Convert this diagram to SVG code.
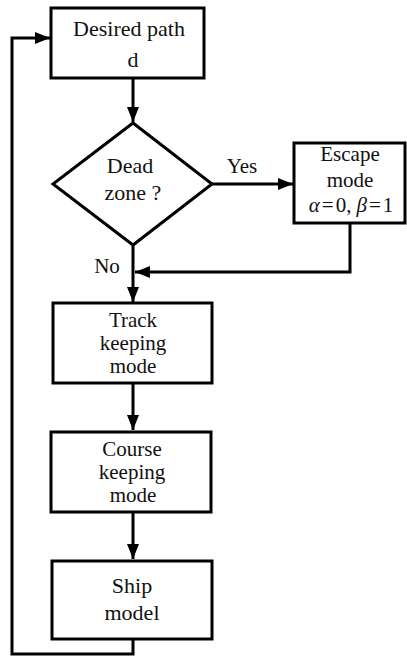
<svg xmlns="http://www.w3.org/2000/svg" width="407" height="657" viewBox="0 0 407 657">
<style>
.box{fill:#fff;stroke:#000;stroke-width:3}
.ln{fill:none;stroke:#000;stroke-width:3;stroke-linejoin:miter}
text{font-family:"Liberation Serif","Times New Roman",serif;font-size:21px;fill:#111;text-anchor:middle}
</style>
<defs>
<marker id="ah" markerUnits="userSpaceOnUse" markerWidth="16" markerHeight="12" refX="15" refY="6" orient="auto">
<path d="M0,0 L15,6 L0,12 Z" fill="#000"/>
</marker>
</defs>
<g id="connectors">
<path class="ln" d="M133,78 V122" marker-end="url(#ah)"/>
<path class="ln" d="M212,184 H293" marker-end="url(#ah)"/>
<path class="ln" d="M350,223 V272 H135" marker-end="url(#ah)"/>
<path class="ln" d="M133,245 V302" marker-end="url(#ah)"/>
<path class="ln" d="M133,383 V430" marker-end="url(#ah)"/>
<path class="ln" d="M133,512 V559" marker-end="url(#ah)"/>
<path class="ln" d="M133,639 V654 H12 V38 H50" marker-end="url(#ah)"/>
<text x="242" y="173">Yes</text>
<text x="107" y="273">No</text>
</g>
<g id="desired">
<rect class="box" x="51" y="8" width="153" height="70"/>
<text x="129" y="36" style="font-size:22px">Desired path</text>
<text x="133" y="67" style="font-size:22px">d</text>
</g>
<g id="deadzone">
<polygon class="box" points="133,123 212,184 133,245 53,184"/>
<text x="130" y="173" style="font-size:22px">Dead</text>
<text x="133" y="200" style="font-size:22px">zone ?</text>
</g>
<g id="escape">
<rect class="box" x="294" y="143" width="111" height="80"/>
<text x="350" y="161">Escape</text>
<text x="350" y="187">mode</text>
<text x="351" y="212"><tspan font-style="italic">α</tspan><tspan dx="2">=</tspan><tspan dx="2">0,</tspan><tspan dx="5" font-style="italic">β</tspan><tspan dx="2">=</tspan><tspan dx="2">1</tspan></text>
</g>
<g id="track">
<rect class="box" x="53" y="303" width="159" height="80"/>
<text x="133" y="327">Track</text>
<text x="133" y="350">keeping</text>
<text x="133" y="373">mode</text>
</g>
<g id="course">
<rect class="box" x="51" y="432" width="160" height="80"/>
<text x="132" y="456">Course</text>
<text x="132" y="479">keeping</text>
<text x="133" y="502">mode</text>
</g>
<g id="ship">
<rect class="box" x="52" y="561" width="160" height="78"/>
<text x="132" y="593" style="font-size:22px">Ship</text>
<text x="132" y="620" style="font-size:22px">model</text>
</g>
</svg>
